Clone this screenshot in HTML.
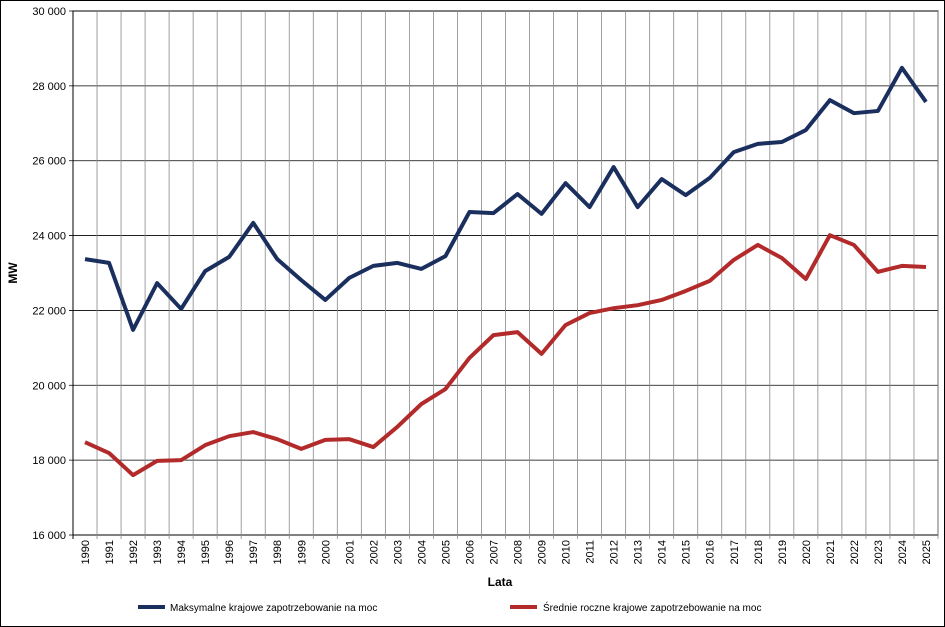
<!DOCTYPE html>
<html><head><meta charset="utf-8"><style>
body{margin:0;background:#fff}
svg{display:block;font-family:"Liberation Sans",sans-serif}
</style></head><body>
<svg id="chart" width="945" height="627">
<rect x="0.5" y="0.5" width="944" height="626" fill="#fff" stroke="#000"/>
<g id="grid"></g><g id="axes"></g><g id="series"></g>
<text x="17" y="273" transform="rotate(-90 17 273)" text-anchor="middle" font-size="12" font-weight="bold">MW</text>
<text x="500" y="586" text-anchor="middle" font-size="12" font-weight="bold">Lata</text>
<g>
<g><line x1="138" y1="607" x2="165" y2="607" stroke="#1a2f5e" stroke-width="4"/><text x="170" y="611" font-size="10">Maksymalne krajowe zapotrzebowanie na moc</text></g>
<g><line x1="510" y1="607" x2="537" y2="607" stroke="#b22a2a" stroke-width="4"/><text x="543" y="611" font-size="10">Średnie roczne krajowe zapotrzebowanie na moc</text></g>
</g>
</svg>
<script>
const years=[];for(let y=1990;y<=2025;y++)years.push(String(y));
const maxDemand=[23370,23270,21480,22730,22040,23050,23430,24340,23370,22810,22280,22870,23190,23270,23110,23450,24630,24600,25110,24580,25400,24760,25830,24760,25510,25080,25540,26230,26450,26500,26820,27620,27270,27330,28480,27570];
const avgDemand=[18480,18190,17600,17980,18000,18400,18640,18750,18560,18300,18540,18560,18350,18890,19500,19900,20730,21340,21420,20840,21610,21930,22060,22140,22280,22520,22790,23350,23750,23400,22840,24010,23750,23030,23190,23160];
const yTicks=[16000,18000,20000,22000,24000,26000,28000,30000];
const X0=73,X1=938,Y0=535,Y1=11,ymin=16000,ymax=30000;
const bw=(X1-X0)/years.length;
const xs=i=>X0+bw*(i+0.5);
const ys=v=>Y0-(v-ymin)/(ymax-ymin)*(Y0-Y1);
const NS="http://www.w3.org/2000/svg";
function mk(t,a,p){const e=document.createElementNS(NS,t);for(const k in a)e.setAttribute(k,a[k]);p.appendChild(e);return e;}
const grid=document.getElementById('grid'),axes=document.getElementById('axes'),ser=document.getElementById('series');
mk('rect',{x:X0,y:Y1,width:X1-X0,height:Y0-Y1,fill:'#fff',stroke:'#000','stroke-width':1},grid);
yTicks.forEach(v=>{
 const l=mk('line',{x1:X0-4,x2:X1,y1:ys(v),y2:ys(v),stroke:'#000','stroke-width':0.8},grid);
 
 
 const t=mk('text',{x:X0-7,y:ys(v)+4,'text-anchor':'end','font-size':11},axes);
 t.textContent=v.toLocaleString('en').replace(',',' ');
 
 
});
for(let i=0;i<=years.length;i++){
 const x=X0+bw*i;
 const l=mk('line',{x1:x,x2:x,y1:Y1,y2:Y0+4,stroke:i==0?'#000':'#888','stroke-width':i==0?1:0.8},grid);
 
 
}
years.forEach((y,i)=>{
 const x=xs(i)+4,yy=540;
 const t=mk('text',{x:x,y:yy,transform:`rotate(-90 ${x} ${yy})`,'text-anchor':'end','font-size':11},axes);
 t.textContent=y;
 
 
});
function line(vals,color,name){
 const p=mk('polyline',{points:vals.map((v,i)=>xs(i)+','+ys(v)).join(' '),fill:'none',stroke:color,'stroke-width':4,'stroke-linejoin':'round'},ser);
 
 
}
line(avgDemand,'#b22a2a','avg-demand-line');
line(maxDemand,'#1a2f5e','max-demand-line');
</script>
</body></html>
